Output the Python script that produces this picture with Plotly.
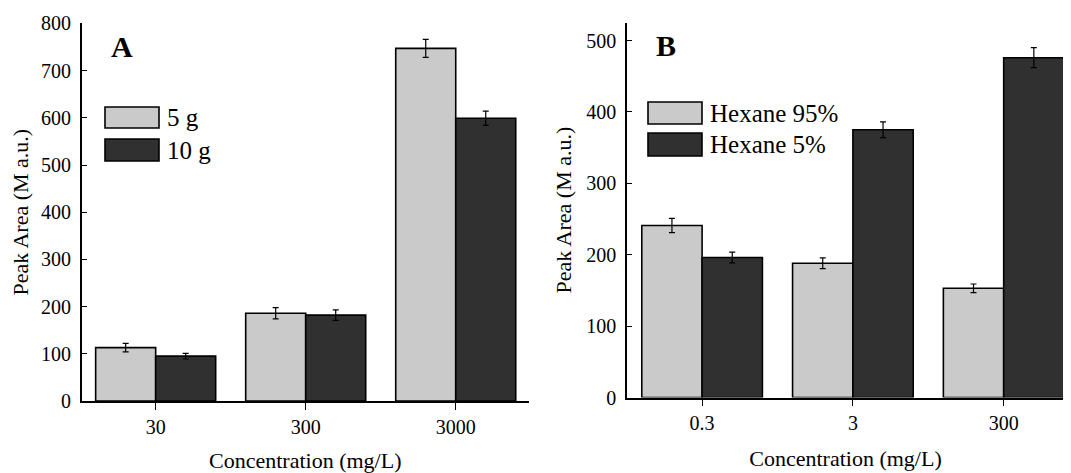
import plotly.graph_objects as go

# page is drawn with an 8px body margin; figure sized to fit the window
OFF = 8
W, H = 1071 - OFF, 473 - OFF

# ---- data ----
cats_a = ["30", "300", "3000"]
a_5g = [113, 186, 747]
a_5g_err = [9, 12, 19]
a_10g = [95, 182, 599]
a_10g_err = [6, 11, 15]

cats_b = ["0.3", "3", "300"]
b_hex95 = [241, 188, 153]
b_hex95_err = [10, 7.5, 6]
b_hex5 = [196, 375, 476]
b_hex5_err = [7.5, 11, 14]

LIGHT = "#cacaca"
DARK = "#303030"
FONT = "Liberation Serif"


def px(x):
    return (x - OFF) / W


def py(y):
    return 1 - (y - OFF) / H


fig = go.Figure()

err = dict(type="data", thickness=1.2, width=3, color="black", visible=True)
line = dict(color="black", width=1.6)

fig.add_trace(go.Bar(x=list(range(3)), y=a_5g, name="5 g", marker=dict(color=LIGHT, line=line),
                     error_y=dict(array=a_5g_err, **err), xaxis="x", yaxis="y", showlegend=False))
fig.add_trace(go.Bar(x=list(range(3)), y=a_10g, name="10 g", marker=dict(color=DARK, line=line),
                     error_y=dict(array=a_10g_err, **err), xaxis="x", yaxis="y", showlegend=False))
fig.add_trace(go.Bar(x=list(range(3)), y=b_hex95, name="Hexane 95%", marker=dict(color=LIGHT, line=line),
                     error_y=dict(array=b_hex95_err, **err), xaxis="x2", yaxis="y2", showlegend=False))
fig.add_trace(go.Bar(x=list(range(3)), y=b_hex5, name="Hexane 5%", marker=dict(color=DARK, line=line),
                     error_y=dict(array=b_hex5_err, **err), xaxis="x2", yaxis="y2", showlegend=False))

tickfont = dict(family=FONT, size=20, color="black")
titlefont = dict(family=FONT, size=22, color="black")

xcommon = dict(showline=True, linecolor="black", linewidth=1.6, ticks="outside", ticklen=7,
               tickwidth=1.4, tickcolor="black", tickfont=tickfont, showgrid=False, zeroline=False,
               automargin=False,
               tickvals=[0, 1, 2], title=dict(text="Concentration (mg/L)", font=titlefont, standoff=17))
ycommon = dict(showline=True, linecolor="black", linewidth=1.6, ticks="inside", ticklen=5,
               tickwidth=1.4, tickcolor="black", tickfont=tickfont, showgrid=False, zeroline=False,
               automargin=False, ticklabelstandoff=5,
               title=dict(text="Peak Area (M a.u.)", font=titlefont, standoff=8))

fig.update_layout(
    width=W, height=H,
    font=dict(family=FONT, size=20, color="black"),
    margin=dict(l=0, r=0, t=0, b=0, autoexpand=False),
    paper_bgcolor="white", plot_bgcolor="white",
    barmode="group", bargap=0.2, bargroupgap=0,
    xaxis=dict(domain=[px(81.7), px(528.8)], range=[-0.493, 2.487], ticktext=cats_a, anchor="y", **xcommon),
    yaxis=dict(domain=[py(401), py(23.4)], range=[0, 800], dtick=100, anchor="x", **ycommon),
    xaxis2=dict(domain=[px(627), px(1064)], range=[-0.498, 2.4], ticktext=cats_b, anchor="y2", **xcommon),
    yaxis2=dict(domain=[py(397.5), py(22.7)], range=[0, 525], dtick=100, anchor="x2", **ycommon),
    showlegend=False,
)

shapes = []
annots = []


def legend_item(x0, y0, x1, y1, color, text, tx):
    shapes.append(dict(type="rect", xref="paper", yref="paper", x0=px(x0), x1=px(x1), y0=py(y1), y1=py(y0),
                       fillcolor=color, line=dict(color="black", width=1.6)))
    annots.append(dict(xref="paper", yref="paper", x=px(tx), y=py((y0 + y1) / 2), text=text, showarrow=False,
                       xanchor="left", yanchor="middle", font=dict(family=FONT, size=25, color="black")))


legend_item(105, 107, 159, 128, LIGHT, "5 g", 165)
legend_item(105, 139, 159, 161, DARK, "10 g", 165)
legend_item(648, 102, 702, 124, LIGHT, "Hexane 95%", 708)
legend_item(648, 133, 702, 156, DARK, "Hexane 5%", 708)

annots.append(dict(xref="paper", yref="paper", x=px(109), y=py(47), text="<b>A</b>", showarrow=False,
                   xanchor="left", yanchor="middle", font=dict(family=FONT, size=30, color="black")))
annots.append(dict(xref="paper", yref="paper", x=px(654), y=py(45), text="<b>B</b>", showarrow=False,
                   xanchor="left", yanchor="middle", font=dict(family=FONT, size=30, color="black")))

fig.update_layout(shapes=shapes, annotations=annots)

fig.write_html("out.html")
